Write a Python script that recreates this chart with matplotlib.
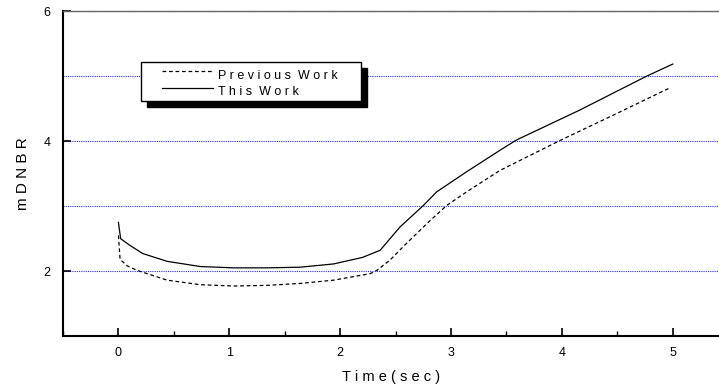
import matplotlib
matplotlib.use("Agg")
import matplotlib.pyplot as plt
from matplotlib.lines import Line2D
from matplotlib.patches import Rectangle
from matplotlib.ticker import MultipleLocator

plt.rcParams['font.family'] = ['Liberation Sans', 'DejaVu Sans']

# mDNBR vs time
prev_t = [0, 0.015, 0.08, 0.17, 0.44, 0.74, 1.04, 1.34, 1.64, 1.94,
          2.27, 2.33, 2.45, 2.6, 2.8, 2.96, 3.14, 3.44, 3.98, 4.46, 4.97]
prev_v = [2.55, 2.18, 2.08, 2.01, 1.86, 1.79, 1.77, 1.78, 1.81, 1.86,
          1.96, 2.01, 2.17, 2.43, 2.76, 3.01, 3.22, 3.55, 4.01, 4.40, 4.82]

this_t = [0, 0.02, 0.1, 0.22, 0.44, 0.74, 1.04, 1.34, 1.64, 1.94, 2.2,
          2.36, 2.54, 2.75, 2.87, 3.14, 3.44, 3.59, 4.16, 4.76, 5.0]
this_v = [2.75, 2.50, 2.40, 2.27, 2.15, 2.07, 2.05, 2.05, 2.06, 2.11, 2.21,
          2.32, 2.68, 3.01, 3.22, 3.53, 3.86, 4.02, 4.48, 5.0, 5.19]

labels = ['P r e v i o u s  W o r k', 'T h i s  W o r k']
dash = (3, 2.2)

fig = plt.figure(figsize=(7.19, 3.91), dpi=100)
ax = fig.add_axes([0.0876, 0.1407, 0.9124, 0.8299])

ax.plot(prev_t, prev_v, color='black', lw=0.9, dashes=dash)
ax.plot(this_t, this_v, color='black', lw=0.9)

ax.set_xlim(-0.5, 5.417)
ax.set_ylim(1, 6)

ax.xaxis.set_major_locator(MultipleLocator(1))
ax.xaxis.set_minor_locator(MultipleLocator(0.5))
ax.yaxis.set_major_locator(MultipleLocator(2))
ax.yaxis.set_minor_locator(MultipleLocator(1))

ax.tick_params(axis='both', which='major', direction='in', length=6,
               width=1.2, labelsize=9)
ax.tick_params(axis='x', which='major', pad=8)
ax.tick_params(axis='y', which='major', pad=9)
ax.tick_params(axis='x', which='minor', direction='in', length=3.5, width=1.0)
ax.tick_params(axis='y', which='minor', length=0)
ax.tick_params(top=False, right=False, which='both')

ax.grid(axis='y', which='both', color='#2a2aff', linestyle=(0, (1, 1)), lw=0.8)

ax.spines['right'].set_visible(False)
ax.spines['top'].set_color('#666666')
ax.spines['top'].set_linewidth(1.0)
for side in ('left', 'bottom'):
    ax.spines[side].set_linewidth(1.5)
    ax.spines[side].set_color('black')

ax.set_xlabel('T i m e ( s e c )', fontsize=10.5, labelpad=8)
ax.set_ylabel('m D N B R', fontsize=11, labelpad=10)

# boxed key with a solid drop shadow, in axes coordinates
bx, by, bw, bh = 0.119, 0.7242, 0.3354, 0.1202
ax.add_patch(Rectangle((bx + 0.0085, by - 0.018), bw, bh, transform=ax.transAxes,
                       facecolor='black', edgecolor='black', zorder=5))
ax.add_patch(Rectangle((bx, by), bw, bh, transform=ax.transAxes,
                       facecolor='white', edgecolor='black', lw=1.0, zorder=6))
row_line_y = [0.8166, 0.7643]
row_text_y = [0.7997, 0.7519]
styles = [dict(dashes=dash), dict(linestyle='-')]
for label, ly, ty, st in zip(labels, row_line_y, row_text_y, styles):
    ax.add_line(Line2D([0.1509, 0.2287], [ly, ly], transform=ax.transAxes,
                       color='black', lw=0.9, zorder=7, **st))
    ax.text(0.2363, ty, label, transform=ax.transAxes, fontsize=9,
            va='center', ha='left', zorder=7)

fig.savefig('out.png', dpi=100)
